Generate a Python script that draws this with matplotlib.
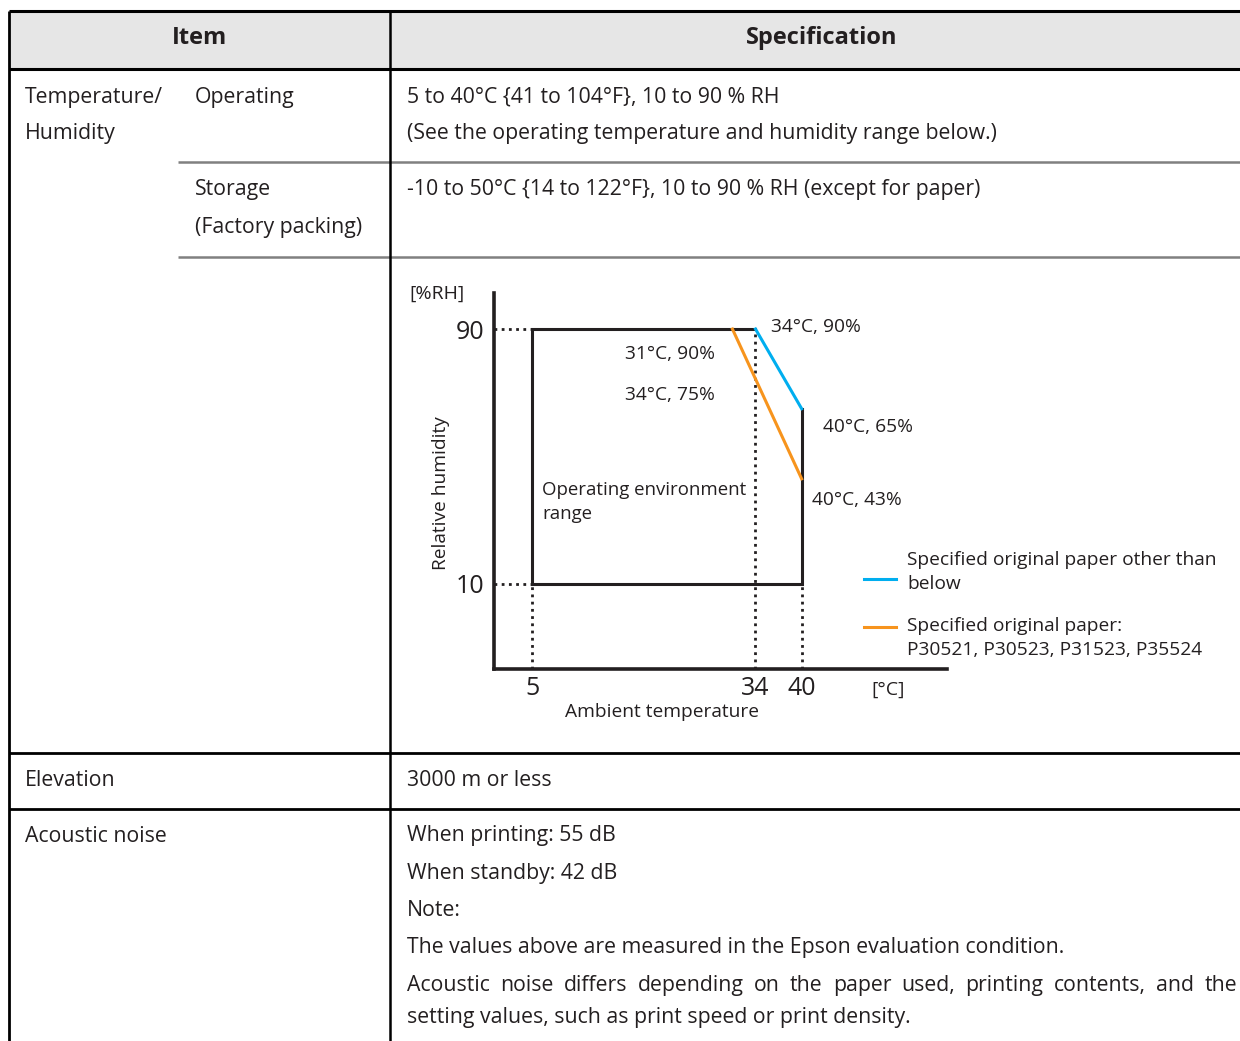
import matplotlib
matplotlib.use("Agg")
import matplotlib.pyplot as plt
from matplotlib.lines import Line2D

plt.rcParams['font.family'] = ['Open Sans', 'DejaVu Sans']

# ---------------- data ----------------
header_item = "Item"
header_spec = "Specification"

# operating range box (temperature °C, humidity %RH)
box_temp = [34, 5, 5, 40, 40]
box_rh = [90, 90, 10, 10, 65]
# curves
blue_temp = [34, 40]
blue_rh = [90, 65]
orange_temp = [31, 40]
orange_rh = [90, 43]
x_ticks = [5, 34, 40]
y_ticks = [10, 90]
point_labels = ["34°C, 90%", "31°C, 90%", "34°C, 75%", "40°C, 65%", "40°C, 43%"]
point_xy = [(34, 90), (31, 90), (34, 75), (40, 65), (40, 43)]
legend_labels = ["Specified original paper other than\nbelow",
                 "Specified original paper:\nP30521, P30523, P31523, P35524"]

TXT = '#231f20'
BLUE = '#00aeef'
ORANGE = '#f7941d'

W, H = 1240, 1041
fig = plt.figure(figsize=(W / 100, H / 100), dpi=100)
bg = fig.add_axes([0, 0, 1, 1])
bg.set_xlim(0, W)
bg.set_ylim(H, 0)
bg.axis('off')

# header fill
bg.add_patch(plt.Rectangle((9, 11), W - 9, 58, facecolor='#e6e6e6', edgecolor='none', zorder=0))

def hline(y, x0, x1, color='black', lw=2.0):
    bg.plot([x0, x1], [y, y], color=color, lw=lw, solid_capstyle='butt')

def vline(x, y0, y1, color='black', lw=2.0):
    bg.plot([x, x], [y0, y1], color=color, lw=lw, solid_capstyle='butt')

hline(11, 9, W, lw=2.2)
hline(69, 9, W, lw=2.2)
hline(162, 178, W, color='#808080', lw=1.8)
hline(257, 178, W, color='#808080', lw=1.8)
hline(753, 9, W, lw=2.0)
hline(809, 9, W, lw=2.0)
vline(9, 11, H, lw=2.0)
vline(390, 11, H, lw=1.8)

FS = 15.3
DY = 2
bg.text(199, 38, header_item, ha='center', va='center', fontsize=17, fontweight='bold', color=TXT)
bg.text(822, 38, header_spec, ha='center', va='center', fontsize=17, fontweight='bold', color=TXT)

rows = [
    (25, 95, "Temperature/"), (25, 131, "Humidity"),
    (195, 95, "Operating"), (195, 188, "Storage"), (195, 225, "(Factory packing)"),
    (407, 95, "5 to 40°C {41 to 104°F}, 10 to 90 % RH"),
    (407, 131, "(See the operating temperature and humidity range below.)"),
    (407, 188, "-10 to 50°C {14 to 122°F}, 10 to 90 % RH (except for paper)"),
    (25, 778, "Elevation"), (407, 778, "3000 m or less"),
    (25, 834, "Acoustic noise"),
    (407, 834, "When printing: 55 dB"),
    (407, 871, "When standby: 42 dB"),
    (407, 908, "Note:"),
    (407, 946, "The values above are measured in the Epson evaluation condition."),
    (407, 1016, "setting values, such as print speed or print density."),
]
for x, y, s in rows:
    bg.text(x, y + DY, s, ha='left', va='center', fontsize=FS, color=TXT)

# justified line (words placed on a common baseline)
just_line = "Acoustic noise differs depending on the paper used, printing contents, and the"
words = just_line.split(' ')
renderer = fig.canvas.get_renderer()
word_w = []
for w_ in words:
    t = bg.text(0, 0, w_, fontsize=FS)
    bb = t.get_window_extent(renderer=renderer)
    word_w.append(bb.width)
    t.remove()
x0, x1 = 407, 1237
gap = (x1 - x0 - sum(word_w)) / (len(words) - 1)
xc = x0
for w_, ww in zip(words, word_w):
    bg.text(xc, 983 + DY + 6, w_, ha='left', va='baseline', fontsize=FS, color=TXT)
    xc += ww + gap

# ---------------- chart ----------------
ax_l, ax_r, ax_t, ax_b = 494, 947, 293, 669
ax = fig.add_axes([ax_l / W, 1 - ax_b / H, (ax_r - ax_l) / W, (ax_b - ax_t) / H])
ax.set_xlim(0, 58.9)
ax.set_ylim(-16.67, 101.3)
ax.patch.set_alpha(0)
for s in ['top', 'right']:
    ax.spines[s].set_visible(False)
for s in ['left', 'bottom']:
    ax.spines[s].set_linewidth(2.6)
    ax.spines[s].set_color(TXT)
ax.set_xticks(x_ticks)
ax.set_xticklabels([str(v) for v in x_ticks])
ax.set_yticks(y_ticks)
ax.set_yticklabels([str(v) for v in y_ticks])
ax.tick_params(length=0, labelsize=18, colors=TXT)
ax.tick_params(axis='x', pad=5)
ax.tick_params(axis='y', pad=7)

dot = (0, (1, 1.6))
ymin = ax.get_ylim()[0]
ax.plot([0, box_temp[1] + 3], [90, 90], color=TXT, lw=2, ls=dot, zorder=2)
ax.plot([0, box_temp[1] + 3], [10, 10], color=TXT, lw=2, ls=dot, zorder=2)
ax.plot([5, 5], [ymin, 10], color=TXT, lw=2, ls=dot)
ax.plot([34, 34], [ymin, 90], color=TXT, lw=2, ls=dot)
ax.plot([40, 40], [ymin, 10], color=TXT, lw=2, ls=dot)

ax.plot(box_temp, box_rh, color=TXT, lw=2.2, solid_joinstyle='miter', zorder=3)
ax.plot(blue_temp, blue_rh, color=BLUE, lw=2.2, zorder=4)
ax.plot(orange_temp, orange_rh, color=ORANGE, lw=2.2, zorder=4)

CF = 13.8
offsets = [(16, 2), (-107, -25), (-130, -18), (21, -18), (10, -21)]
for lab, xy, off in zip(point_labels, point_xy, offsets):
    ax.annotate(lab, xy=xy, xytext=off, textcoords='offset pixels',
                ha='left', va='center', fontsize=CF, color=TXT)

bg.text(437, 294, "[%RH]", ha='center', va='center', fontsize=14, color=TXT)
bg.text(441, 493, "Relative humidity", ha='center', va='center', rotation=90, fontsize=CF, color=TXT)
bg.text(662, 712, "Ambient temperature", ha='center', va='center', fontsize=CF, color=TXT)
bg.text(888, 690, "[°C]", ha='center', va='center', fontsize=14, color=TXT)
bg.text(542, 502, "Operating environment\nrange", ha='left', va='center', fontsize=13.4,
        color=TXT, linespacing=1.45)

# legend
for y_line, y_txt, col, lab in [(579, 572, BLUE, legend_labels[0]), (627, 638, ORANGE, legend_labels[1])]:
    bg.add_line(Line2D([864, 896], [y_line, y_line], color=col, lw=2.2))
    bg.text(907, y_txt, lab, ha='left', va='center', fontsize=CF, color=TXT, linespacing=1.4)

fig.savefig("out.png", dpi=100)
